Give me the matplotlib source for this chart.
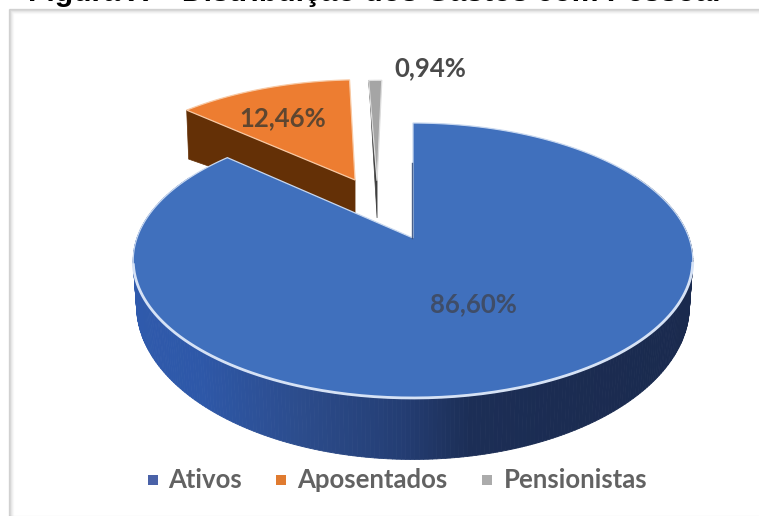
import numpy as np
import matplotlib
matplotlib.use("Agg")
import matplotlib.pyplot as plt
from matplotlib.patches import Polygon, Rectangle
from matplotlib.collections import PolyCollection

categories = ["Ativos", "Aposentados", "Pensionistas"]
values = [86.60, 12.46, 0.94]
value_labels = ["86,60%", "12,46%", "0,94%"]
title_text = "Figura X – Distribuição dos Gastos com Pessoal"

# Pie projection
CX, CY = 413.0, 238.0
B, A, K, DEPTH = 276.0, 133.8, 0.1636, 43.0
explode = [(0.0, 0.0), (-0.226, 0.4666), (-0.14, 0.46)]
outer_wall_scale = [1.0, 1.6, 1.0]
face_cols = ["#4070BD", "#ED7D31", "#A5A5A5"]
wall_cols = ["#2F5597", "#643006", "#3F3F3F"]
rim_cols = ["#C8D8F0", "#F8C9A4", "#DDDDDD"]
TEXT = "#4A4A4A"
FONT = "Lato"


def project(theta_deg, radius, off):
    t = np.radians(theta_deg)
    u = radius * np.sin(t) + off[0]
    v = radius * np.cos(t) + off[1]
    d = 1 + K * v
    return CX + B * u / d, CY - A * v / d, DEPTH / d ** 2


def wall_colour(x):
    xs = [133, 200, 300, 400, 470, 560, 694]
    rs = [0x2F, 0x2E, 0x2C, 0x24, 0x1C, 0x1B, 0x1A]
    gs = [0x5A, 0x58, 0x4C, 0x3E, 0x2E, 0x2C, 0x2A]
    bs = [0xAC, 0xA8, 0x8C, 0x74, 0x56, 0x52, 0x4E]
    return (np.interp(x, xs, rs) / 255, np.interp(x, xs, gs) / 255, np.interp(x, xs, bs) / 255)


fig = plt.figure(figsize=(7.59, 5.16), dpi=100)
ax = fig.add_axes([0, 0, 1, 1])
ax.set_xlim(0, 759)
ax.set_ylim(516, 0)
ax.axis("off")

# Soft chart frame
for i, a in enumerate([0.16, 0.11, 0.07, 0.04, 0.02]):
    ax.plot([9 + i, 9 + i], [9 + i, 516], color="black", alpha=a, lw=1, solid_capstyle="butt")
    ax.plot([9 + i, 759], [9 + i, 9 + i], color="black", alpha=a, lw=1, solid_capstyle="butt")
ax.plot([9, 759], [515.5, 515.5], color="black", alpha=0.05, lw=1)

ax.text(28, 1.0, title_text, family="Liberation Sans", weight="bold", fontsize=21.7,
        color="black", ha="left", va="baseline", clip_on=False)

# Slice angle ranges, clockwise from 12 o'clock
edges = np.cumsum([0] + values) / sum(values) * 360
spans = list(zip(edges[:-1], edges[1:]))

# Draw back slices first
for idx in [2, 1, 0]:
    start, end = spans[idx]
    off = explode[idx]
    th = np.linspace(start, end, 400)
    x, y, dep = project(th, 1.0, off)
    ax0, ay0, adep = project(0.0, 0.0, off)

    if idx == 0:
        # curved outer wall with horizontal shading; its lower ellipse is slightly narrower
        vis = th[(th > 60) & (th < 300)]
        vx, vy, vd = project(vis, 1.0, off)
        bx = vx + (CX - vx) * 0.012
        quads = [[(vx[i], vy[i]), (vx[i + 1], vy[i + 1]),
                  (bx[i + 1], vy[i + 1] + vd[i + 1]), (bx[i], vy[i] + vd[i])]
                 for i in range(len(vis) - 1)]
        cols = [wall_colour(0.5 * (vx[i] + vx[i + 1])) for i in range(len(vis) - 1)]
        ax.add_collection(PolyCollection(quads, facecolors=cols, edgecolors=cols, linewidths=0.6))
    else:
        # wall under the cut edge running to the slice's start angle
        sx, sy, sd = project(start, 1.0, off)
        sd = sd * outer_wall_scale[idx]
        ax.add_patch(Polygon([(sx, sy), (ax0, ay0), (ax0, ay0 + adep), (sx + 2, sy + sd)],
                             closed=True, fc=wall_cols[idx], ec=wall_cols[idx], lw=0.5))

    px = np.r_[ax0, x]
    py = np.r_[ay0, y]
    ax.add_patch(Polygon(np.c_[px, py], closed=True, fc=face_cols[idx], ec=rim_cols[idx],
                         lw=0.9, joinstyle="miter"))
    if idx == 0:
        fr = th[(th > 100) & (th < 260)]
        fx, fy, _ = project(fr, 1.0, off)
        ax.plot(fx, fy, color="#D6E2F5", lw=2.0, solid_capstyle="butt")
        # thin dark lip beside the vertical cut
        ax.plot([ax0 - 1.5, CX - 1.5], [ay0, ay0 - 75], color="#27406F", lw=1.0, alpha=0.8)

# Value labels
ax.text(473, 304, value_labels[0], family=FONT, weight="bold", fontsize=18.5, color="#3F4D68",
        ha="center", va="center")
ax.text(283, 118, value_labels[1], family=FONT, weight="bold", fontsize=18.5, color="#5E4630",
        ha="center", va="center")
ax.text(430, 68, value_labels[2], family=FONT, weight="bold", fontsize=18.5, color=TEXT,
        ha="center", va="center")

# Legend
square_x = [153, 281, 487]
label_x = [168, 297, 504]
legend_cols = ["#4A62A8", "#E07B30", "#ABABAB"]
for name, sx, lx, col in zip(categories, square_x, label_x, legend_cols):
    ax.add_patch(Rectangle((sx - 5, 475), 10, 10, fc=col, ec="none"))
    ax.text(lx, 480, name, family=FONT, weight="bold", fontsize=18.5, color="#626262",
            ha="left", va="center")

fig.savefig("out.png", dpi=100, facecolor="white")
